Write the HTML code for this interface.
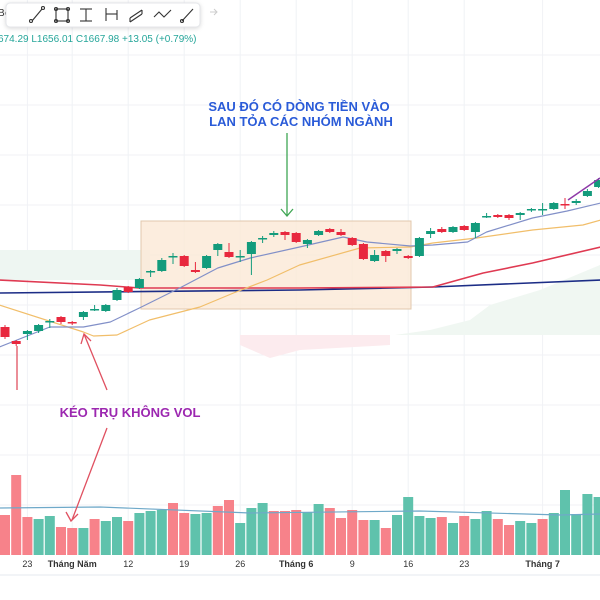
<!DOCTYPE html>
<html><head><meta charset="utf-8"><style>
body{margin:0;width:600px;height:600px;overflow:hidden;background:#fff;font-family:"Liberation Sans","Noto Sans CJK JP",sans-serif}
svg{display:block}
</style></head><body>
<svg id="c" width="600" height="600" viewBox="0 0 600 600">
<g id="grid"></g>
<path d="M0,250 L150,250 L150,280 L0,280Z" fill="#eef6f2"/>
<path d="M240,335 L390,335 L390,345 L300,350 L270,358 L240,345Z" fill="#fcebee"/>
<path d="M395,335 L430,330 L470,320 L490,305 L540,290 L600,265 L600,335Z" fill="#f0f7f2"/>
<rect x="141" y="221" width="270" height="88" fill="#fbe9d6" fill-opacity="0.8" stroke="#e2c8ad"/>
<g id="lines"></g>
<g id="candles"></g>
<g id="vol"></g>
<g id="xaxis"></g>
<line x1="0" y1="575" x2="600" y2="575" stroke="#e6e9ef"/>
<text x="299" y="111" text-anchor="middle" font-size="13" font-weight="bold" fill="#2a5bd8">SAU ĐÓ CÓ DÒNG TIỀN VÀO</text>
<text x="301" y="126" text-anchor="middle" font-size="13" font-weight="bold" fill="#2a5bd8">LAN TỎA CÁC NHÓM NGÀNH</text>
<line x1="287" y1="133" x2="287" y2="216" stroke="#3fa654" stroke-width="1.3"/>
<path d="M281,209 L287,216 L293,209" fill="none" stroke="#3fa654" stroke-width="1.3"/>
<text x="130" y="417" text-anchor="middle" font-size="13" font-weight="bold" fill="#9c27b0">KÉO TRỤ KHÔNG VOL</text>
<line x1="107" y1="390" x2="84" y2="334" stroke="#e05060" stroke-width="1.3"/>
<path d="M81,344 L84,334 L91,341" fill="none" stroke="#e05060" stroke-width="1.3"/>
<line x1="107" y1="428" x2="72" y2="520" stroke="#e05060" stroke-width="1.3"/>
<path d="M66,512 L71,521 L78,514" fill="none" stroke="#e05060" stroke-width="1.3"/>
<line x1="17" y1="346" x2="17" y2="390" stroke="#e05060" stroke-width="1.3"/>
<line x1="568" y1="200" x2="600" y2="178" stroke="#8e3aa8" stroke-width="1.5"/>
<text x="-2" y="42" font-size="10" fill="#26a69a">674.29 L1656.01 C1667.98 +13.05 (+0.79%)</text>
<text x="-2" y="16" font-size="10" fill="#333">Bc</text>
<g>
<rect x="6" y="3" width="194" height="24" rx="4" fill="#fff" stroke="#e4e6ea" style="filter:drop-shadow(0 1px 2px rgba(0,0,0,.15))"/>
<g stroke="#333" fill="none" stroke-width="1.1">
<g><line x1="32" y1="21" x2="42" y2="9"/><circle cx="31" cy="21" r="1.5"/><circle cx="43" cy="8" r="1.5"/></g>
<g><rect x="56" y="9" width="12" height="12"/><circle cx="56" cy="9" r="1.5"/><circle cx="68" cy="9" r="1.5"/><circle cx="56" cy="21" r="1.5"/><circle cx="68" cy="21" r="1.5"/></g>
<g><line x1="80" y1="9" x2="92" y2="9"/><line x1="86" y1="9" x2="86" y2="21"/><line x1="80" y1="21" x2="92" y2="21"/></g>
<g><line x1="106" y1="8" x2="106" y2="21"/><line x1="106" y1="14" x2="117" y2="14"/><line x1="117" y1="10" x2="117" y2="20"/></g>
<g><path d="M130,18 L142,10 M130,22 L142,14 M130,18 L130,22 M142,10 L142,14"/></g>
<g><path d="M154,17 L159,12 L164,17 L171,10"/></g>
<g><line x1="182" y1="21" x2="193" y2="9"/><circle cx="182" cy="21" r="1.5"/></g>
</g>
<path d="M210,12 L217,12 M214,9 L217,12 L214,15" stroke="#ccc" fill="none"/>
</g>
</svg>
<script>
const volumes=[40,80,38,36,39,28,27,27,36,34,38,34,42,44,45,52,42,41,42,49,55,32,47,52,44,44,45,43,51,47,37,45,35,35,27,40,58,39,37,38,32,39,36,44,36,30,34,32,36,42,65,41,61,58];
const volUp=[0,0,0,1,1,0,0,1,0,1,1,0,1,1,1,0,0,1,1,0,0,1,1,1,0,0,0,1,1,0,0,0,0,1,0,1,1,1,1,0,1,0,1,1,0,0,1,1,0,1,1,1,1,1];
const opens=[1673,1659,1666,1669,1678,1683,1678,1683,1690,1689,1700,1713,1712,1728,1729,1743,1744,1730,1732,1750,1748,1743,1746,1761,1765,1768,1767,1756,1765,1771,1768,1762,1756,1739,1749,1749,1744,1744,1766,1771,1768,1774,1768,1783,1785,1785,1785,1790,1790,1791,1796,1797,1804,1813];
const closes=[1663,1656,1669,1675,1679,1678,1677,1688,1691,1695,1710,1708,1721,1729,1740,1744,1734,1728,1744,1756,1743,1744,1758,1762,1767,1765,1758,1760,1769,1768,1765,1755,1741,1745,1744,1751,1742,1762,1769,1768,1773,1770,1777,1784,1783,1782,1787,1791,1791,1797,1795,1799,1809,1820];
const highs=[1675,1660,1670,1676,1681,1684,1679,1689,1695,1696,1712,1714,1722,1730,1742,1747,1745,1738,1745,1757,1757,1750,1759,1764,1769,1769,1768,1761,1770,1772,1771,1763,1757,1750,1750,1752,1745,1763,1772,1773,1774,1775,1778,1787,1786,1786,1788,1792,1797,1798,1802,1801,1811,1822];
const lows=[1661,1654,1660,1667,1672,1676,1675,1680,1689,1688,1699,1707,1711,1723,1728,1736,1733,1727,1731,1744,1742,1738,1725,1757,1763,1760,1757,1752,1764,1767,1764,1754,1740,1738,1738,1746,1741,1743,1762,1767,1767,1769,1762,1782,1782,1780,1780,1788,1785,1790,1791,1795,1803,1812];
const maFastIdx=[-0.5,4,7,9.4,12,15.6,19,21.9,26.3,30.2,32.3,36.2,38.2,41.3,43,47.1,50.2,53.2];
const maFast=[1653,1673,1673,1678,1692,1712,1732,1742,1753,1763,1758,1754,1755,1758,1768,1782,1789,1797];
const maMidIdx=[-0.5,7,7.9,10,12.9,17.4,20.4,23.4,26.3,31.7,36.2,38.2,42.1,47.1,51.6,53.2];
const maMid=[1695,1668,1664,1665,1680,1693,1707,1720,1735,1752,1753,1757,1762,1770,1775,1780];
const maSlowIdx=[-0.5,8.5,12,26.3,38.2,42.7,47.1,53.2];
const maSlow=[1720,1715,1712,1712,1713,1727,1737,1753];
const maLongIdx=[-0.5,26.3,38.2,53.2];
const maLong=[1707,1710,1713,1720];
const volMaIdx=[-0.5,8.5,21.9,37,49.6,53.2];
const volMa=[47,48,42,44,40,41];
const tickIdx=[2,6,11,16,21,26,31,36,41,48];
const tickLabels=["23","Tháng Năm","12","19","26","Tháng 6","9","16","23","Tháng 7"];
const tickBold=[0,1,0,0,0,1,0,0,0,1];

const NS="http://www.w3.org/2000/svg";
const xS=i=>5+11.2*i;
const yS=p=>2000-p;
const vS=v=>555-v;
function mk(t,a,p){const e=document.createElementNS(NS,t);for(const k in a)e.setAttribute(k,a[k]);p.appendChild(e);return e;}
const grid=document.getElementById('grid');
for(let k=0;k<tickIdx.length;k++){const l=mk('line',{x1:xS(tickIdx[k]),x2:xS(tickIdx[k]),y1:0,y2:555,stroke:'#f0f2f6'},grid);

}
for(let y=55;y<555;y+=50){const l=mk('line',{x1:0,x2:600,y1:y,y2:y,stroke:'#f0f2f6'},grid);

}
const vg=document.getElementById('vol');
for(let i=0;i<volumes.length;i++){const r=mk('rect',{x:xS(i)-5,y:vS(volumes[i]),width:10,height:volumes[i],fill:volUp[i]?'#5fc2ac':'#f7828a'},vg);

}
const lg=document.getElementById('lines');
function line(ix,vals,sc,col,w,name){const d=ix.map((v,k)=>(k?'L':'M')+xS(v).toFixed(1)+','+sc(vals[k]).toFixed(1)).join(' ');
const p=mk('path',{d:d,fill:'none',stroke:col,'stroke-width':w,'stroke-linejoin':'round'},name==='volume-ma'?vg:lg);

}
line(maLongIdx,maLong,yS,'#1c2d86',1.6,'ma-long-line');
line(maSlowIdx,maSlow,yS,'#df3a52',1.6,'ma-slow-line');
line(maMidIdx,maMid,yS,'#f1be6a',1.2,'ma-mid-line');
line(maFastIdx,maFast,yS,'#8290c8',1.2,'ma-fast-line');
line(volMaIdx,volMa,vS,'#6fa9c9',1.2,'volume-ma');
const cg=document.getElementById('candles');
for(let i=0;i<opens.length;i++){const up=closes[i]>=opens[i];const col=up?'#139b7c':'#e8283e';const x=xS(i);
const w=mk('line',{x1:x,x2:x,y1:yS(highs[i]),y2:yS(lows[i]),stroke:col,'stroke-width':1},cg);


const top=yS(Math.max(opens[i],closes[i]));const h=Math.max(1.5,Math.abs(opens[i]-closes[i]));
const b=mk('rect',{x:x-4.5,y:top,width:9,height:h,fill:col},cg);

}
const xg=document.getElementById('xaxis');
for(let k=0;k<tickIdx.length;k++){const t=mk('text',{x:xS(tickIdx[k]),y:567,'text-anchor':'middle','font-size':'9','font-weight':tickBold[k]?'bold':'normal',fill:'#333'},xg);
t.textContent=tickLabels[k];

}
</script>
</body></html>
